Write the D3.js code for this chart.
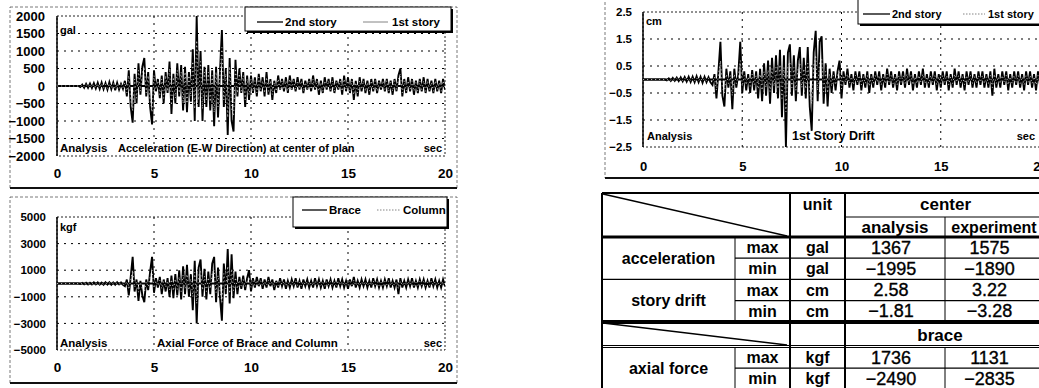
<!DOCTYPE html>
<html>
<head>
<meta charset="utf-8">
<script src="https://cdn.jsdelivr.net/npm/d3@7"></script>
<style>
  body { margin: 0; background: #fff; }
  svg { display: block; font-family: "Liberation Sans", Arial, sans-serif; }
</style>
</head>
<body>
<svg id="fig" width="1039" height="388"></svg>
<script>
// sampling step of the traces (sec)
const DT = 0.1;
const timeTicks = [0, 5, 10, 15, 20];

// acceleration (gal), one row = 1 sec
const accTicks = [2000, 1500, 1000, 500, 0, -500, -1000, -1500, -2000];
const accStory2 = [
  0,0,0,0,0,0,0,0,0,0,
  0,0,-30,40,-50,60,-50,70,-60,80,
  -70,90,-80,100,-90,80,-100,110,-90,100,
  -120,90,-100,60,-80,150,-300,450,-600,-1050,
  350,-500,650,-250,550,800,-300,400,-600,-1100,
  450,-150,200,-350,300,-500,400,-200,700,-800,
  350,-500,650,-300,600,-700,550,-750,400,-450,
  1050,-1000,2000,-600,1000,-1000,550,-600,600,-700,
  450,-1150,550,-900,400,1600,-600,500,-1400,800,
  -1000,-1300,750,-300,500,-200,400,-600,300,-400,
  300,-200,250,-300,350,-150,250,-300,400,-250,
  200,-400,150,-200,300,-100,200,-150,250,-200,
  300,-100,200,-150,250,-100,200,-200,150,-100,
  200,-150,300,-100,200,-250,150,-200,250,-100,
  200,-150,250,-200,150,-100,200,-250,300,-150,
  250,-200,200,-400,150,-300,250,-150,200,-200,
  150,-250,200,-150,200,-200,150,-100,200,-150,
  200,-200,150,-250,200,-150,300,500,-300,200,
  -200,250,-150,200,-250,150,-200,200,-150,250,
  -200,200,-150,150,-200,200,-150,150,-200,200,
  -100
];
const accStory1 = [
  0,0,0,0,0,0,0,0,0,0,
  0,0,-20,30,-30,40,-30,50,-40,50,
  -50,60,-50,70,-60,50,-70,70,-60,70,
  -80,60,-70,40,-50,100,-200,300,-400,-700,
  200,-350,450,-150,400,550,-200,300,-400,-750,
  300,-100,150,-250,200,-350,300,-150,500,-550,
  250,-350,450,-200,400,-500,400,-500,300,-300,
  700,-650,1300,-400,700,-650,400,-400,400,-450,
  300,-750,400,-600,300,1100,-400,350,-900,550,
  -650,-850,500,-200,350,-150,300,-400,200,-250,
  200,-150,150,-200,250,-100,150,-200,250,-150,
  150,-250,100,-150,200,-80,150,-100,150,-150,
  200,-80,150,-100,150,-80,150,-150,100,-80,
  150,-100,200,-80,150,-150,100,-150,150,-80,
  150,-100,150,-150,100,-80,150,-150,200,-100,
  150,-150,150,-250,100,-200,150,-100,150,-150,
  100,-150,150,-100,150,-150,100,-80,150,-100,
  150,-150,100,-150,150,-100,200,350,-200,150,
  -150,150,-100,150,-150,100,-150,150,-100,150,
  -150,150,-100,100,-150,150,-100,100,-150,150,
  -80
];

// axial force (kgf)
const forceTicks = [5000, 3000, 1000, -1000, -3000, -5000];
const forceBrace = [
  0,0,0,0,0,0,0,0,0,0,
  0,0,-40,50,-60,50,-80,60,-70,80,
  -60,90,-80,70,-90,100,-80,90,-100,80,
  -90,100,-70,80,-100,-200,300,-900,500,2000,
  -600,300,-1300,200,-900,-1400,300,-500,900,2000,
  -700,400,-300,500,-800,300,-600,400,-1000,600,
  -1100,700,-900,1000,-1200,1300,-800,1400,-1000,700,
  -2000,1700,-3000,1200,1800,-1000,1100,-1200,900,-800,
  1500,2000,-1400,1200,-1000,-2800,1500,-800,2600,-1500,
  2200,-1100,900,-800,500,-400,600,-500,400,1000,
  -600,400,-300,500,-200,400,-400,300,-300,500,
  -200,300,-500,200,-300,400,-200,300,-400,200,
  -300,300,-200,400,-300,200,-400,300,-200,300,
  -300,200,-300,400,-200,300,-300,200,-400,300,
  -200,300,-300,200,-300,400,-200,300,-300,200,
  -400,300,-200,500,-300,200,-300,300,-200,300,
  -300,200,-300,400,-200,300,-300,200,-300,300,
  -200,400,-300,200,-300,300,-800,400,-300,200,
  -300,300,-200,400,-300,200,-300,300,-200,300,
  -300,200,-300,400,-200,300,-300,200,-300,300,
  -200
];
const forceColumn = [
  0,0,0,0,0,0,0,0,0,0,
  0,0,-20,30,-30,30,-40,30,-40,40,
  -30,50,-40,40,-50,50,-40,50,-50,40,
  -50,50,-40,40,-50,-100,150,-450,250,1000,
  -300,150,-650,100,-450,-700,150,-250,450,1000,
  -350,200,-150,250,-400,150,-300,200,-500,300,
  -550,350,-450,500,-600,650,-400,700,-500,350,
  -1000,850,-1500,600,900,-500,550,-600,450,-400,
  750,1000,-700,600,-500,-1400,750,-400,1300,-750,
  1100,-550,450,-400,250,-200,300,-250,200,500,
  -300,200,-150,250,-100,200,-200,150,-150,250,
  -100,150,-250,100,-150,200,-100,150,-200,100,
  -150,150,-100,200,-150,100,-200,150,-100,150,
  -150,100,-150,200,-100,150,-150,100,-200,150,
  -100,150,-150,100,-150,200,-100,150,-150,100,
  -200,150,-100,250,-150,100,-150,150,-100,150,
  -150,100,-150,200,-100,150,-150,100,-150,150,
  -100,200,-150,100,-150,150,-400,200,-150,100,
  -150,150,-100,200,-150,100,-150,150,-100,150,
  -150,100,-150,200,-100,150,-150,100,-150,150,
  -100
];

// story drift (cm)
const driftTicks = [2.5, 1.5, 0.5, -0.5, -1.5, -2.5];
const driftStory2 = [
  0,0,0,0,0,0,0,0,0,0,
  0,0,-0.03,0.04,-0.05,0.06,-0.05,0.07,-0.06,0.08,
  -0.07,0.09,-0.08,0.1,-0.09,0.1,-0.1,0.12,-0.1,0.1,
  -0.12,0.1,-0.1,0.08,-0.1,-0.2,0.2,-0.7,0.3,1.4,
  -0.6,-1.0,0.4,-0.3,0.3,-1.1,0.4,-0.3,0.2,1.4,
  -0.5,0.3,-0.4,0.2,-0.5,0.35,-0.4,0.3,-0.7,0.4,
  -0.8,0.6,-0.6,0.7,-0.9,0.8,-0.5,0.9,-0.7,1.1,
  -1.4,0.9,-2.5,1.0,1.3,-0.6,0.9,-0.8,0.7,1.2,
  -0.6,0.8,-0.7,1.2,-1.0,-1.9,1.0,1.8,-0.8,1.4,
  1.6,-0.9,0.6,-1.0,0.4,-0.5,0.3,-0.4,0.3,0.7,
  -0.7,0.3,-0.2,0.4,-0.3,0.2,-0.4,0.3,-0.2,0.3,
  -0.4,0.2,-0.3,0.3,-0.5,0.2,-0.3,0.3,-0.2,0.3,
  -0.4,0.2,-0.3,0.4,-0.2,0.3,-0.3,0.2,-0.4,0.3,
  -0.2,0.3,-0.3,0.4,-0.2,0.3,-0.4,0.2,-0.3,0.3,
  -0.2,0.4,-0.3,0.2,-0.3,0.3,-0.2,0.3,-0.4,0.2,
  -0.3,0.3,-0.2,0.3,-0.4,0.2,-0.3,0.4,-0.2,0.3,
  -0.3,0.2,-0.4,0.3,-0.2,0.3,-0.3,0.2,-0.3,0.3,
  -0.2,0.3,-0.3,0.2,-0.3,0.3,-0.6,0.4,-0.3,0.2,
  -0.3,0.3,-0.2,0.3,-0.4,0.2,-0.3,0.3,-0.2,0.3,
  -0.3,0.2,-0.4,0.3,-0.2,0.3,-0.3,0.2,-0.4,0.3,
  -0.2
];
const driftStory1 = [
  0,0,0,0,0,0,0,0,0,0,
  0,0,-0.02,0.02,-0.03,0.03,-0.03,0.04,-0.03,0.04,
  -0.04,0.05,-0.04,0.05,-0.05,0.05,-0.05,0.06,-0.05,0.05,
  -0.06,0.05,-0.05,0.04,-0.05,-0.1,0.1,-0.4,0.15,0.7,
  -0.3,-0.5,0.2,-0.15,0.15,-0.6,0.2,-0.15,0.1,0.7,
  -0.25,0.15,-0.2,0.1,-0.25,0.2,-0.2,0.15,-0.35,0.2,
  -0.4,0.3,-0.3,0.35,-0.45,0.4,-0.25,0.45,-0.35,0.55,
  -0.7,0.45,-1.2,0.5,0.65,-0.3,0.45,-0.4,0.35,0.6,
  -0.3,0.4,-0.35,0.6,-0.5,-0.9,0.5,0.9,-0.4,0.7,
  0.8,-0.45,0.3,-0.5,0.2,-0.25,0.15,-0.2,0.15,0.35,
  -0.35,0.15,-0.1,0.2,-0.15,0.1,-0.2,0.15,-0.1,0.15,
  -0.2,0.1,-0.15,0.15,-0.25,0.1,-0.15,0.15,-0.1,0.15,
  -0.2,0.1,-0.15,0.2,-0.1,0.15,-0.15,0.1,-0.2,0.15,
  -0.1,0.15,-0.15,0.2,-0.1,0.15,-0.2,0.1,-0.15,0.15,
  -0.1,0.2,-0.15,0.1,-0.15,0.15,-0.1,0.15,-0.2,0.1,
  -0.15,0.15,-0.1,0.15,-0.2,0.1,-0.15,0.2,-0.1,0.15,
  -0.15,0.1,-0.2,0.15,-0.1,0.15,-0.15,0.1,-0.15,0.15,
  -0.1,0.15,-0.15,0.1,-0.15,0.15,-0.3,0.2,-0.15,0.1,
  -0.15,0.15,-0.1,0.15,-0.2,0.1,-0.15,0.15,-0.1,0.15,
  -0.15,0.1,-0.2,0.15,-0.1,0.15,-0.15,0.1,-0.2,0.15,
  -0.1
];

// table
const quantityLabels = ['acceleration', 'story drift', 'axial force'];
const extremeLabels = ['max', 'min'];
const unitLabels = ['gal', 'cm', 'kgf'];
const analysisValues = [1367, -1995, 2.58, -1.81, 1736, -2490];
const experimentValues = [1575, -1890, 3.22, -3.28, 1131, -2835];

const FONT = '"Liberation Sans", Arial, sans-serif';
const svg = d3.select('#fig');
const fmtVal = v => String(v).replace('-', '\u2212');

function outerFrame(x0, y0, x1, y1) {
  svg.append('rect')
    .attr('x', x0).attr('y', y0)
    .attr('width', x1 - x0).attr('height', y1 - y0)
    .attr('fill', 'none')
    .attr('stroke', '#555')
    .attr('stroke-width', 0.8)
    .attr('stroke-dasharray', '3,2');
  svg.append('line')
    .attr('x1', x0).attr('x2', x1)
    .attr('y1', y1).attr('y2', y1)
    .attr('stroke', '#111')
    .attr('stroke-width', 2);
}

function label(g, x, y, str, size, anchor) {
  return g.append('text')
    .attr('x', x).attr('y', y)
    .attr('font-size', size)
    .attr('font-weight', 'bold')
    .attr('text-anchor', anchor || 'start')
    .attr('fill', '#000')
    .text(str);
}

function drawChart(c) {
  const g = svg.append('g');
  const x = d3.scaleLinear().domain([0, 20]).range([c.left, c.right]);
  const y = d3.scaleLinear()
    .domain([c.yTicks[c.yTicks.length - 1], c.yTicks[0]])
    .range([c.bottom, c.top]);

  svg.append('clipPath').attr('id', 'clip-' + c.id)
    .append('rect')
      .attr('x', c.left).attr('y', c.top - 1)
      .attr('width', Math.min(c.right, 1039) - c.left)
      .attr('height', c.bottom - c.top + 2);

  // dotted grid
  g.selectAll('.hgrid')
    .data(c.yTicks.slice(1, -1))
    .join('line')
      .attr('x1', c.left).attr('x2', c.right)
      .attr('y1', d => y(d)).attr('y2', d => y(d))
      .attr('stroke', '#000')
      .attr('stroke-width', 1)
      .attr('stroke-dasharray', '2,5');
  g.selectAll('.vgrid')
    .data(timeTicks.slice(1, -1))
    .join('line')
      .attr('x1', d => x(d)).attr('x2', d => x(d))
      .attr('y1', c.top).attr('y2', c.bottom)
      .attr('stroke', '#000')
      .attr('stroke-width', 1)
      .attr('stroke-dasharray', '2,5');

  // plot frame
  g.append('rect')
    .attr('x', c.left).attr('y', c.top)
    .attr('width', c.right - c.left).attr('height', c.bottom - c.top)
    .attr('fill', 'none')
    .attr('stroke', '#222')
    .attr('stroke-width', 1)
    .attr('stroke-dasharray', '2,2');
  g.append('line')
    .attr('x1', c.left).attr('x2', c.left)
    .attr('y1', c.top).attr('y2', c.bottom)
    .attr('stroke', '#000')
    .attr('stroke-width', 1.5);

  // axes (labels only)
  const ya = g.append('g')
    .attr('transform', `translate(${c.left},0)`)
    .call(d3.axisLeft(y).tickValues(c.yTicks).tickSize(0).tickPadding(c.yPad).tickFormat(fmtVal));
  ya.select('.domain').remove();
  ya.attr('font-family', FONT).attr('font-size', c.tickFont).attr('font-weight', 'bold');
  ya.selectAll('text').attr('fill', '#000');

  const xa = g.append('g')
    .attr('transform', `translate(0,${c.bottom})`)
    .call(d3.axisBottom(x).tickValues(timeTicks).tickSize(0).tickPadding(c.xPad).tickFormat(fmtVal));
  xa.select('.domain').remove();
  xa.attr('font-family', FONT).attr('font-size', c.xTickFont).attr('font-weight', 'bold');
  xa.selectAll('text').attr('fill', '#000');

  // zero line
  g.append('line')
    .attr('x1', c.left).attr('x2', c.right)
    .attr('y1', y(0)).attr('y2', y(0))
    .attr('stroke', '#000')
    .attr('stroke-width', 1.8);

  // traces
  const line = d3.line().x((d, i) => x(i * DT)).y(d => y(d));
  const traces = g.append('g').attr('clip-path', `url(#clip-${c.id})`);
  traces.append('path')
    .datum(c.main)
    .attr('d', line)
    .attr('fill', 'none')
    .attr('stroke', '#000')
    .attr('stroke-width', 1.9)
    .attr('stroke-linejoin', 'miter');
  traces.append('path')
    .datum(c.second)
    .attr('d', line)
    .attr('fill', 'none')
    .attr('stroke', '#f2f2f2')
    .attr('stroke-width', 0.7)
    .attr('stroke-dasharray', '1.2,2.8');

  // texts inside plot
  label(g, c.left + 3, c.unitY, c.unit, 11);
  c.notes.forEach(n => label(g, n.x, n.y, n.text, n.size, n.anchor));

  // legend
  const L = c.legend;
  g.append('rect')
    .attr('x', L.x0 + 2).attr('y', L.y0 + 2)
    .attr('width', L.x1 - L.x0).attr('height', L.y1 - L.y0)
    .attr('fill', '#000');
  g.append('rect')
    .attr('x', L.x0).attr('y', L.y0)
    .attr('width', L.x1 - L.x0).attr('height', L.y1 - L.y0)
    .attr('fill', '#fff')
    .attr('stroke', '#000')
    .attr('stroke-width', 1);
  L.items.forEach((it, i) => {
    g.append('line')
      .attr('x1', it.lx0).attr('x2', it.lx1)
      .attr('y1', L.cy).attr('y2', L.cy)
      .attr('stroke', i === 0 ? '#000' : '#666')
      .attr('stroke-width', i === 0 ? 1.3 : 0.8)
      .attr('stroke-dasharray', i === 0 || c.id === 'acc' ? null : '1.5,1.5');
    label(g, it.tx, L.cy + 4, it.name, L.font);
  });
}

// frames
outerFrame(10, 7, 457, 188);
outerFrame(10, 197, 457, 383);
outerFrame(605, -2, 1046, 178);

drawChart({
  id: 'acc', left: 57, right: 445, top: 16, bottom: 156,
  yTicks: accTicks, yPad: 12, tickFont: 13, xPad: 12, xTickFont: 13.5,
  main: accStory2, second: accStory1,
  unit: 'gal', unitY: 34,
  notes: [
    { x: 60, y: 152, text: 'Analysis', size: 11.5 },
    { x: 118, y: 152, text: 'Acceleration (E-W Direction) at center of plan', size: 11 },
    { x: 442, y: 152, text: 'sec', size: 11, anchor: 'end' }
  ],
  legend: { x0: 245, y0: 7, x1: 451, y1: 31, cy: 22, font: 11.5,
    items: [
      { name: '2nd story', lx0: 257, lx1: 283, tx: 285 },
      { name: '1st story', lx0: 363, lx1: 388, tx: 392 }
    ] }
});

drawChart({
  id: 'force', left: 57, right: 445, top: 217, bottom: 350,
  yTicks: forceTicks, yPad: 11, tickFont: 11.5, xPad: 12, xTickFont: 13.5,
  main: forceBrace, second: forceColumn,
  unit: 'kgf', unitY: 231,
  notes: [
    { x: 60, y: 347, text: 'Analysis', size: 11.5 },
    { x: 157, y: 347, text: 'Axial Force of Brace and Column', size: 11.5 },
    { x: 442, y: 347, text: 'sec', size: 11, anchor: 'end' }
  ],
  legend: { x0: 293, y0: 197, x1: 447, y1: 227, cy: 210, font: 11.5,
    items: [
      { name: 'Brace', lx0: 302, lx1: 327, tx: 329 },
      { name: 'Column', lx0: 377, lx1: 400, tx: 403 }
    ] }
});

drawChart({
  id: 'drift', left: 643, right: 1040, top: 12, bottom: 147,
  yTicks: driftTicks, yPad: 11, tickFont: 11.5, xPad: 15, xTickFont: 13,
  main: driftStory2, second: driftStory1,
  unit: 'cm', unitY: 25,
  notes: [
    { x: 647, y: 140, text: 'Analysis', size: 11 },
    { x: 792, y: 140, text: '1st Story Drift', size: 12.5 },
    { x: 1035, y: 140, text: 'sec', size: 11, anchor: 'end' }
  ],
  legend: { x0: 858, y0: -3, x1: 1046, y1: 24, cy: 14, font: 11,
    items: [
      { name: '2nd story', lx0: 863, lx1: 890, tx: 892 },
      { name: '1st story', lx0: 963, lx1: 985, tx: 988 }
    ] }
});

// ---- table ----
const T = { x0: 602, x1: 735, x2: 790, x3: 845, x4: 945, x5: 1046,
  top: 193, sub: 217, head: 237, rowH: 21.2, braceTop: 322, axialTop: 347 };
const tg = svg.append('g');
function tl(x1, y1, x2, y2, w) {
  tg.append('line')
    .attr('x1', x1).attr('y1', y1).attr('x2', x2).attr('y2', y2)
    .attr('stroke', '#000').attr('stroke-width', w || 1);
}
function tt(x, y, str, size, weight) {
  return tg.append('text')
    .attr('x', x).attr('y', y)
    .attr('text-anchor', 'middle')
    .attr('dominant-baseline', 'central')
    .attr('font-size', size)
    .attr('font-weight', weight || 'normal')
    .attr('fill', '#000')
    .text(str);
}
const rowTop = i => i < 4 ? T.head + i * T.rowH : T.axialTop + (i - 4) * T.rowH;

// borders
tl(T.x0, T.top, T.x5, T.top, 2);
tl(T.x0, T.top, T.x0, 390, 2);
tl(T.x2, T.top, T.x2, 390, 2);
tl(T.x3, T.top, T.x3, 390, 2);
tl(T.x3, T.sub, T.x5, T.sub, 1);
tl(T.x4, T.sub, T.x4, T.braceTop, 1);
tl(T.x4, T.axialTop, T.x4, 390, 1);
tl(T.x1, T.head, T.x1, T.braceTop, 1);
tl(T.x1, T.axialTop, T.x1, 390, 1);
tl(T.x0, T.head, T.x5, T.head, 3);
tl(T.x0, T.braceTop, T.x5, T.braceTop, 4);
tl(T.x0, T.axialTop - 1.5, T.x5, T.axialTop - 1.5, 1);
tl(T.x0, T.axialTop + 0.5, T.x5, T.axialTop + 0.5, 1);
[1, 2, 3, 5].forEach(i => {
  const yy = rowTop(i);
  tl(i % 2 === 0 ? T.x0 : T.x1, yy, T.x5, yy, 1.2);
});
// diagonals
tl(T.x0 + 1, T.top + 1, T.x2 - 3, T.head - 1, 1.6);
tl(T.x0 + 1, T.braceTop + 1, T.x2 - 3, T.axialTop - 2, 1.6);

// header
tt((T.x2 + T.x3) / 2, 204, 'unit', 16, 'bold');
tt((T.x3 + T.x5) / 2, 204, 'center', 17, 'bold');
tt((T.x3 + T.x4) / 2, 227, 'analysis', 17, 'bold');
tt(994, 227, 'experiment', 16, 'bold');
tt(940, 335, 'brace', 17, 'bold');

// body
analysisValues.forEach((v, i) => {
  const cy = rowTop(i) + T.rowH / 2;
  tt((T.x1 + T.x2) / 2, cy, extremeLabels[i % 2], 16, 'bold');
  tt((T.x2 + T.x3) / 2, cy, unitLabels[Math.floor(i / 2)], 16, 'bold');
  tt((T.x3 + T.x4) / 2 - 4, cy, fmtVal(v), 18)
    .attr('stroke', '#000').attr('stroke-width', 0.35);
  tt((T.x4 + T.x5) / 2 - 6, cy, fmtVal(experimentValues[i]), 18)
    .attr('stroke', '#000').attr('stroke-width', 0.35);
});
quantityLabels.forEach((q, k) => {
  const cy = rowTop(2 * k) + T.rowH;
  tt((T.x0 + T.x1) / 2, cy, q, 16, 'bold');
});
</script>
</body>
</html>
